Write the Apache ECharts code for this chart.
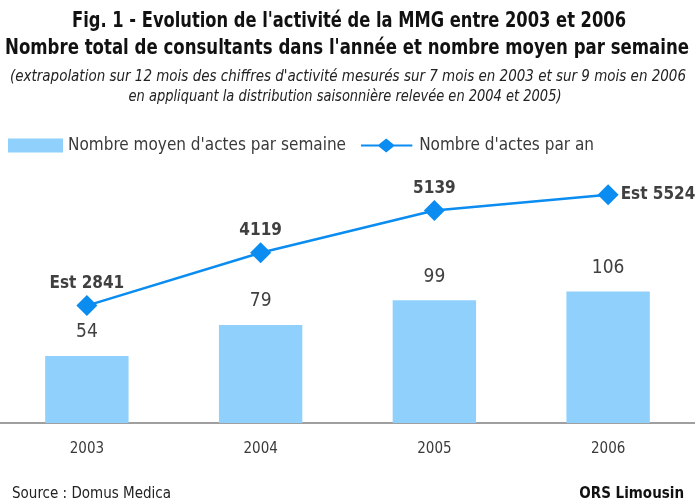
<!DOCTYPE html>
<html>
<head>
<meta charset="utf-8">
<script src="https://cdn.jsdelivr.net/npm/echarts@6/dist/echarts.min.js"></script>
<style>
  html, body { margin: 0; padding: 0; background: #fff; }
  #chart { width: 695px; height: 501px; }
</style>
</head>
<body>
<div id="chart"></div>
<script>
// données
const years = ["2003", "2004", "2005", "2006"];
const weeklyActs = [54, 79, 99, 106];
const annualActs = [2841, 4119, 5139, 5524];
const estimated = [true, false, false, true]; // années extrapolées

const FONT = '"Liberation Sans Narrow", "DejaVu Sans Condensed", "Roboto", sans-serif';
const TEXT = "#3a3a3a";

// titres : police étroite simulée par un scaleX pour tenir la largeur de l'original
const ctx = document.createElement("canvas").getContext("2d");
function narrowText(text, font, cx, cy, targetWidth, color) {
  ctx.font = font;
  const w = ctx.measureText(text).width;
  return {
    type: "text",
    x: cx,
    y: cy,
    scaleX: targetWidth / w,
    style: {
      text: text,
      font: font,
      fill: color,
      textAlign: "center",
      textVerticalAlign: "middle",
    },
  };
}

const titleFont = "bold 21px " + FONT;
const subFont = "italic 15px " + FONT;

const chart = echarts.init(document.getElementById("chart"));

const option = {
  textStyle: { fontFamily: FONT },
  graphic: [
    narrowText("Fig. 1 - Evolution de l'activité de la MMG entre 2003 et 2006", titleFont, 349, 22, 554, "#111"),
    narrowText("Nombre total de consultants dans l'année et nombre moyen par semaine", titleFont, 347, 49, 684, "#111"),
    narrowText("(extrapolation sur 12 mois des chiffres d'activité mesurés sur 7 mois en 2003 et sur 9 mois en 2006", subFont, 348, 77, 676, "#222"),
    narrowText("en appliquant la distribution saisonnière relevée en 2004 et 2005)", subFont, 345, 97, 433, "#222"),
  ],
  title: [
    {
      text: "Source : Domus Medica",
      left: 12,
      top: 487,
      padding: 0,
      textStyle: { fontFamily: FONT, fontSize: 15, fontWeight: "normal", color: "#222" },
    },
    {
      text: "ORS Limousin",
      right: 11,
      top: 487,
      padding: 0,
      textStyle: { fontFamily: FONT, fontSize: 15, fontWeight: "bold", color: "#111" },
    },
  ],
  legend: {
    left: 8,
    top: 137,
    padding: 0,
    itemWidth: 55,
    itemHeight: 14,
    itemGap: 15,
    textStyle: { fontFamily: FONT, fontSize: 17, color: TEXT },
    data: [
      { name: "Nombre moyen d'actes par semaine", icon: "rect" },
      {
        name: "Nombre d'actes par an",
        icon: "path://M0,6.5 L19,6.5 L27,0 L35,6.5 L55,6.5 L55,8.5 L35,8.5 L27,15 L19,8.5 L0,8.5 Z",
      },
    ],
  },
  grid: { left: 0, right: 0, top: 175, bottom: 78 },
  xAxis: {
    type: "category",
    data: years,
    axisTick: { show: false },
    axisLine: { lineStyle: { color: "#7f7f7f", width: 1.5 } },
    axisLabel: { fontFamily: FONT, fontSize: 15, color: TEXT, margin: 19 },
  },
  yAxis: [
    { type: "value", min: 0, max: 200, show: false },
    { type: "value", min: 0, max: 6000, show: false },
  ],
  series: [
    {
      name: "Nombre moyen d'actes par semaine",
      type: "bar",
      yAxisIndex: 0,
      barWidth: "48%",
      data: weeklyActs,
      itemStyle: { color: "#90d0fc" },
      label: {
        show: true,
        position: "top",
        distance: 14,
        fontFamily: FONT,
        fontSize: 19,
        color: "#404040",
      },
    },
    {
      name: "Nombre d'actes par an",
      type: "line",
      yAxisIndex: 1,
      symbol: "diamond",
      symbolSize: 21,
      lineStyle: { color: "#0a8cf0", width: 2.5 },
      itemStyle: { color: "#0a8cf0" },
      data: annualActs.map((v, i) => ({
        value: v,
        label: {
          show: true,
          position: i === annualActs.length - 1 ? "right" : "top",
          distance: i === annualActs.length - 1 ? 2 : 3,
          formatter: (estimated[i] ? "Est " : "") + v,
          fontFamily: FONT,
          fontSize: 17,
          fontWeight: "bold",
          color: "#404040",
        },
      })),
    },
  ],
};

chart.setOption(option);
</script>
</body>
</html>
